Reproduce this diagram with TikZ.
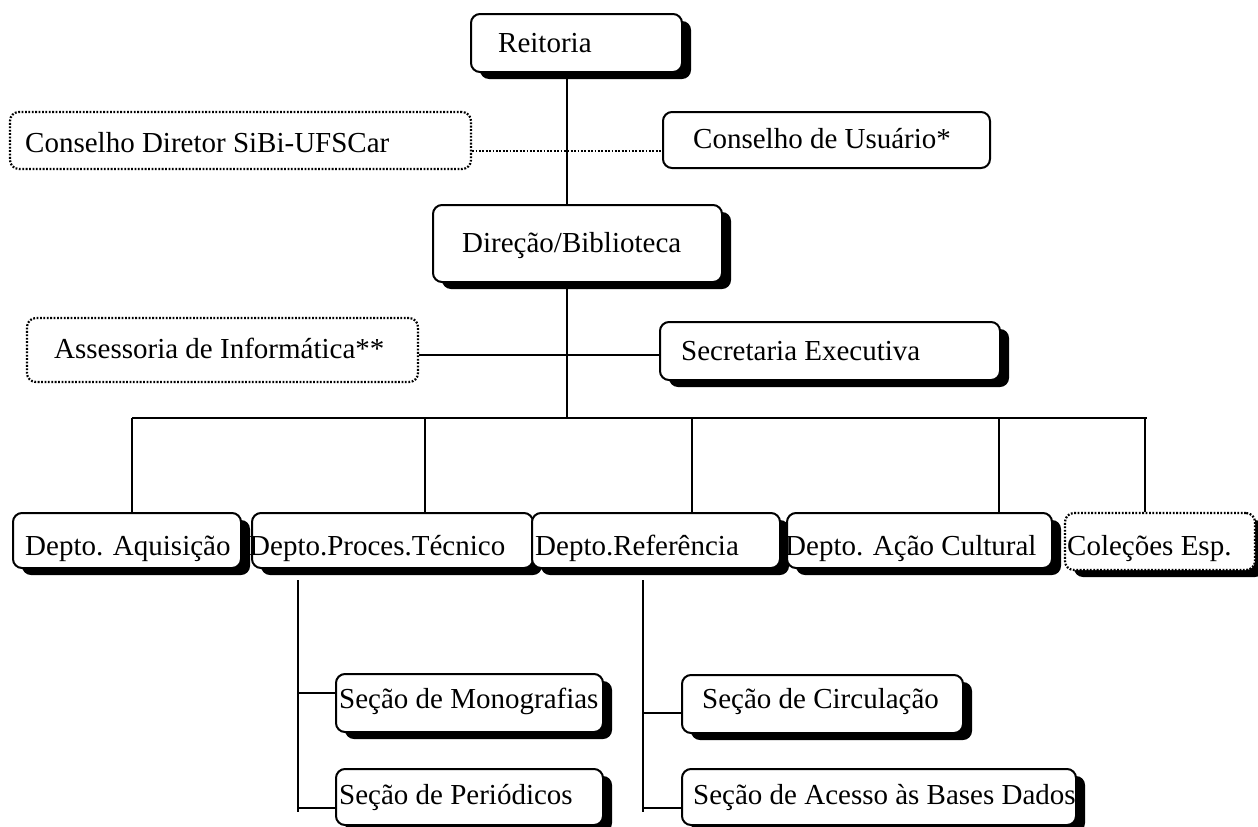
\documentclass[tikz,border=0pt]{standalone}
\usepackage{fontspec}
\setmainfont{Liberation Serif}
\usetikzlibrary{shadows}

\tikzset{
  orgbox/.style={draw, line width=2pt, rounded corners=9pt, fill=white, inner sep=0pt},
  dotbox/.style={draw, line width=2.2pt, dash pattern=on 1.8pt off 1.6pt, rounded corners=9pt, fill=white, inner sep=0pt},
  shadowed/.style={drop shadow={opacity=1, fill=black, shadow xshift=9pt, shadow yshift=-7pt}},
  link/.style={line width=2pt},
  dotlink/.style={line width=2.2pt, dash pattern=on 1.8pt off 1.6pt},
  lbl/.style={anchor=base west, inner sep=0pt, font=\fontsize{29}{34}\selectfont}
}

% #1 name, #2 style, #3-#6 corners (x1,y1,x2,y2), #7 text x, #8 baseline, #9 text
\newcommand\chartbox[9]{%
  \node[#2, minimum width={(#5-#3)*1pt}, minimum height={(#6-#4)*1pt}]
    (#1) at ({(#3+#5)/2},{(#4+#6)/2}) {};
  \node[lbl] (#1-t) at (#7,#8) {#9};
}

\begin{document}
\begin{tikzpicture}[x=1pt, y=-1pt]
\useasboundingbox (0,0) rectangle (1258,827);
\fill[white] (0,0) rectangle (1258,827);

% top levels
\chartbox{reit}{orgbox,shadowed}{471}{14}{682}{72}{498}{52}{Reitoria}
\chartbox{cdir}{dotbox}{10}{112}{471}{169}{25}{152}{Conselho Diretor SiBi-UFSCar}
\chartbox{cusu}{orgbox}{663}{112}{990}{168}{693}{148}{Conselho de Usuário*}
\chartbox{dir}{orgbox,shadowed}{433}{205}{722}{282}{462}{252}{Direção/Biblioteca}
\chartbox{ass}{dotbox}{27}{318}{418}{382}{54}{358}{Assessoria de Informática**}
\chartbox{sec}{orgbox,shadowed}{660}{322}{1000}{380}{681}{360}{Secretaria Executiva}

% departments
\chartbox{aq}{orgbox,shadowed}{13}{513}{241}{568}{25}{555}{Depto. Aquisição}
\chartbox{pt}{orgbox,shadowed}{252}{513}{533}{568}{249}{555}{Depto.Proces.Técnico}
\chartbox{ref}{orgbox,shadowed}{532}{513}{780}{568}{535}{555}{Depto.Referência}
\chartbox{ac}{orgbox,shadowed}{787}{513}{1052}{568}{785}{555}{Depto. Ação Cultural}
\chartbox{col}{dotbox,shadowed}{1065}{513}{1255}{570}{1067}{555}{Coleções Esp.}

% sections
\chartbox{mono}{orgbox,shadowed}{336}{674}{603}{732}{339}{708}{Seção de Monografias}
\chartbox{peri}{orgbox,shadowed}{336}{769}{603}{825}{339}{804}{Seção de Periódicos}
\chartbox{circ}{orgbox,shadowed}{682}{675}{963}{733}{702}{708}{Seção de Circulação}
\chartbox{aces}{orgbox,shadowed}{682}{769}{1076}{825}{693}{804}{Seção de Acesso às Bases Dados}

% trunk and bus
\coordinate (tx) at (567,0);
\coordinate (busL) at (132,418);
\coordinate (busR) at (1147,418);
\coordinate (hc) at (0,151);
\coordinate (ha) at (0,355);

\draw[link] (tx |- reit.south) -- (tx |- dir.north);
\draw[dotlink] (cdir.east |- hc) -- (cusu.west |- hc);
\draw[link] (tx |- dir.south) -- (tx |- busL);
\draw[link] (ass.east |- ha) -- (sec.west |- ha);
\draw[link] (busL) -- (busR);

\coordinate (v1) at (132,418);
\coordinate (v2) at (425,418);
\coordinate (v3) at (692,418);
\coordinate (v4) at (999,418);
\coordinate (v5) at (1145,418);
\draw[link] (v1) -- (v1 |- aq.north);
\draw[link] (v2) -- (v2 |- pt.north);
\draw[link] (v3) -- (v3 |- ref.north);
\draw[link] (v4) -- (v4 |- ac.north);
\draw[link] (v5) -- (v5 |- col.north);

% section branches
\coordinate (pTop) at (298,580);
\coordinate (pBot) at (298,812);
\coordinate (pm) at (298,693);
\coordinate (pp) at (298,808);
\draw[link] (pTop) -- (pBot);
\draw[link] (pm) -- (pm -| mono.west);
\draw[link] (pp) -- (pp -| peri.west);

\coordinate (rTop) at (643,580);
\coordinate (rBot) at (643,812);
\coordinate (rc) at (643,713);
\coordinate (ra) at (643,808);
\draw[link] (rTop) -- (rBot);
\draw[link] (rc) -- (rc -| circ.west);
\draw[link] (ra) -- (ra -| aces.west);
\end{tikzpicture}
\end{document}
